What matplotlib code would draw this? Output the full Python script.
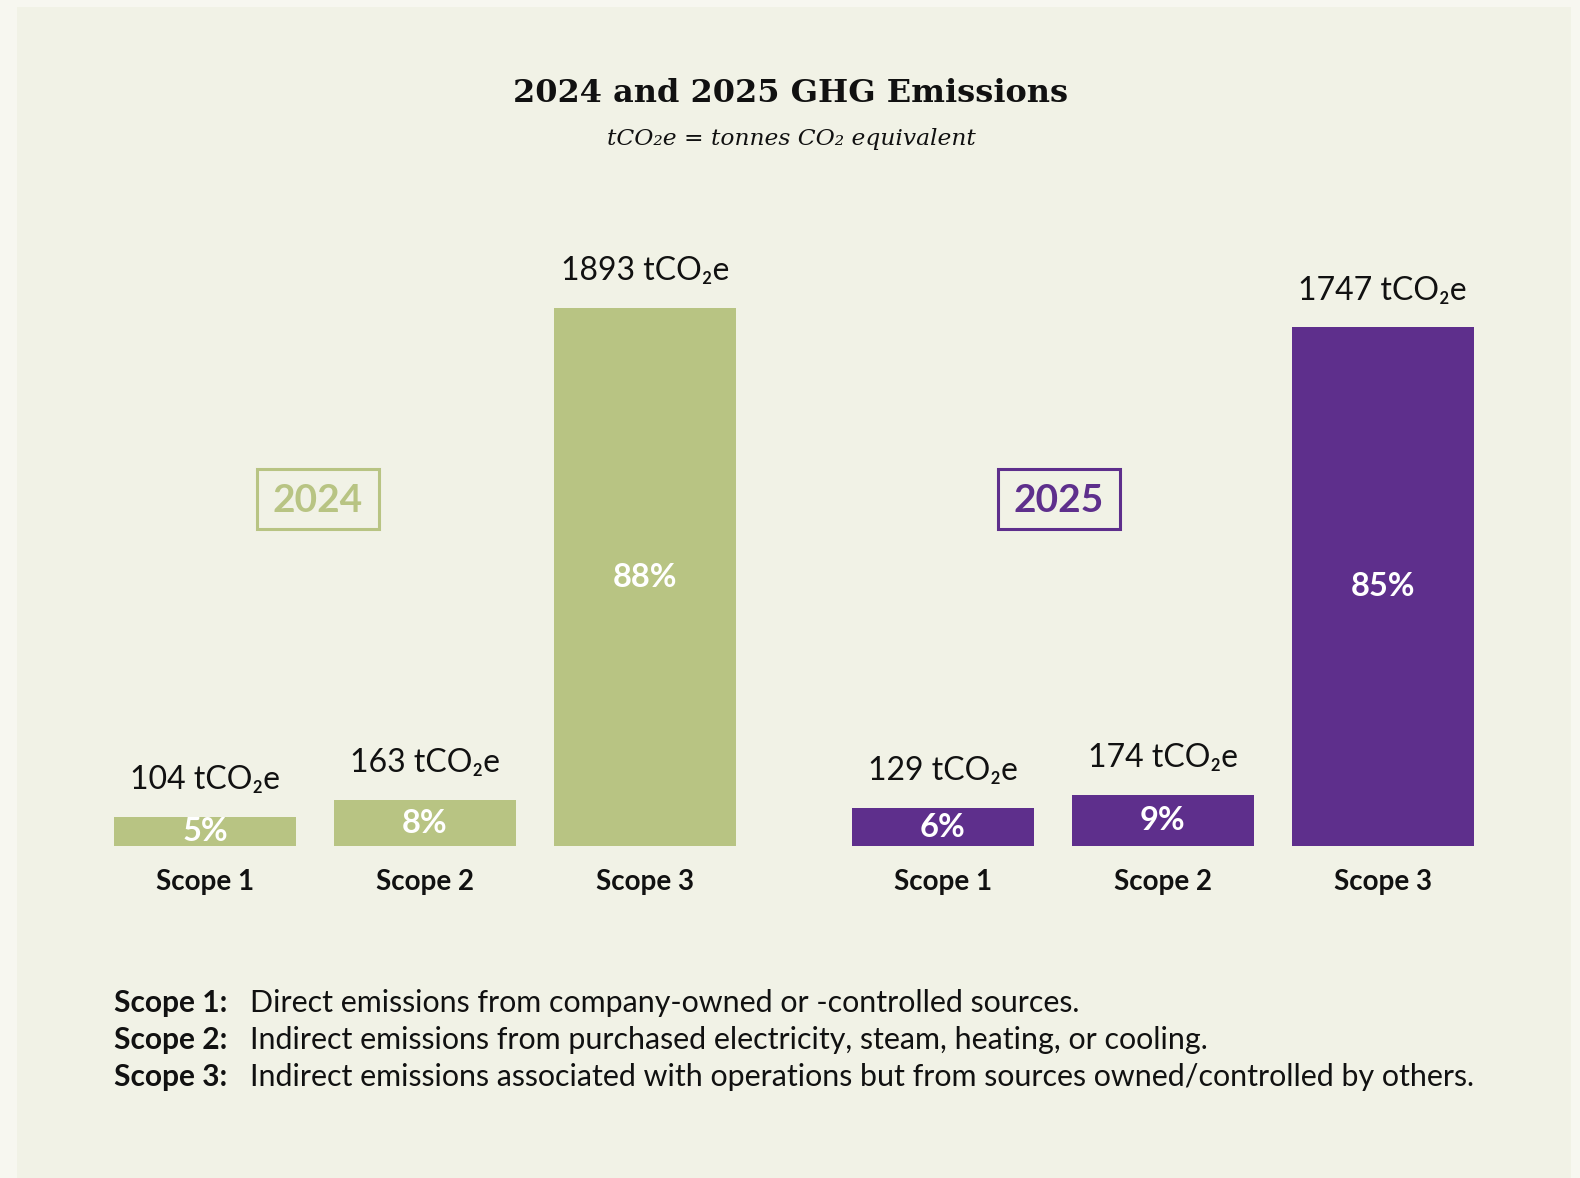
import matplotlib
matplotlib.use("Agg")
import matplotlib.pyplot as plt
from matplotlib.patches import Rectangle

# ---------------- data ----------------
scopes = ["Scope 1", "Scope 2", "Scope 3"]
years = ["2024", "2025"]
values_2024 = [104, 163, 1893]
values_2025 = [129, 174, 1747]
pct_2024 = [5, 8, 88]
pct_2025 = [6, 9, 85]
footer_terms = ["Scope 1:", "Scope 2:", "Scope 3:"]
footer_defs = [
    "Direct emissions from company-owned or -controlled sources.",
    "Indirect emissions from purchased electricity, steam, heating, or cooling.",
    "Indirect emissions associated with operations but from sources owned/controlled by others.",
]

# ---------------- style ----------------
GREEN = "#B8C483"
PURPLE = "#5E2F8C"
PANEL = "#F1F2E6"
OUTER = "#F7F7F0"
TEXT = "#111111"
SANS = ["Lato", "DejaVu Sans"]
SERIF = ["DejaVu Serif"]

W, H = 1580, 1178
fig = plt.figure(figsize=(W / 100, H / 100), dpi=100)
fig.patch.set_facecolor(OUTER)


def fx(x):
    return x / W


def fy(y):
    return 1 - y / H


# background panel
fig.patches.append(Rectangle((fx(17), 0), fx(1571) - fx(17), fy(7), transform=fig.transFigure,
                             facecolor=PANEL, edgecolor="none", zorder=-5))

# title / subtitle
fig.text(fx(791), fy(93), "2024 and 2025 GHG Emissions", ha="center", va="center",
         fontsize=23, fontweight="bold", family=SERIF, color=TEXT)
fig.text(fx(791), fy(139), "tCO\u2082e = tonnes CO\u2082 equivalent", ha="center", va="center",
         fontsize=16.8, style="italic", family=SERIF, color=TEXT)

baseline = 846.4
step = 220.0
groups = [
    (values_2024, pct_2024, GREEN, 205.0, 308.3, 318.0),
    (values_2025, pct_2025, PURPLE, 942.7, 327.5, 1058.5),
]

for (vals, pcts, col, c0, top3, boxx), year in zip(groups, years):
    left = c0 - step / 2
    right = c0 + 2 * step + step / 2
    # scale: tallest bar top aligned to reference
    px_per_unit = (baseline - top3) / max(vals)
    ymax = 2000
    hpx = ymax * px_per_unit
    ax = fig.add_axes([fx(left), fy(baseline), (right - left) / W, hpx / H], zorder=2)
    ax.set_facecolor("none")
    xs = list(range(len(scopes)))
    ax.bar(xs, vals, width=182.4 / step, color=col, zorder=2)
    ax.set_xlim(-0.5, len(scopes) - 0.5)
    ax.set_ylim(0, ymax)
    for s in ax.spines.values():
        s.set_visible(False)
    ax.set_yticks([])
    ax.set_xticks(xs)
    ax.set_xticklabels(scopes, fontsize=20, fontweight="bold", family=SANS, color=TEXT)
    ax.tick_params(axis="x", length=0, pad=16)
    for x, v, p in zip(xs, vals, pcts):
        ax.annotate(f"{v} tCO\u2082e", (x, v), xytext=(0, 26.5), textcoords="offset points",
                    ha="center", va="center", fontsize=23, family=SANS, color=TEXT)
        ax.text(x, v / 2, f"{p}%", ha="center", va="center", fontsize=23.5,
                fontweight="bold", family=SANS, color="white")
    # year box
    bw, bh = 122, 60
    fig.patches.append(Rectangle((fx(boxx - bw / 2), fy(499 + bh / 2)), bw / W, bh / H,
                                 transform=fig.transFigure, facecolor="none",
                                 edgecolor=col, linewidth=2.2, zorder=3))
    fig.text(fx(boxx), fy(500.5), year, ha="center", va="center", fontsize=28,
             fontweight="bold", family=SANS, color=col)

# footer
for i, (t, d) in enumerate(zip(footer_terms, footer_defs)):
    yy = fy(1002.6 + i * 37.3)
    fig.text(fx(114), yy, t, ha="left", va="center", fontsize=21.5, fontweight="bold",
             family=SANS, color=TEXT)
    fig.text(fx(250), yy, d, ha="left", va="center", fontsize=21.9, family=SANS, color=TEXT)

fig.savefig("out.png", dpi=100, facecolor=fig.get_facecolor())
